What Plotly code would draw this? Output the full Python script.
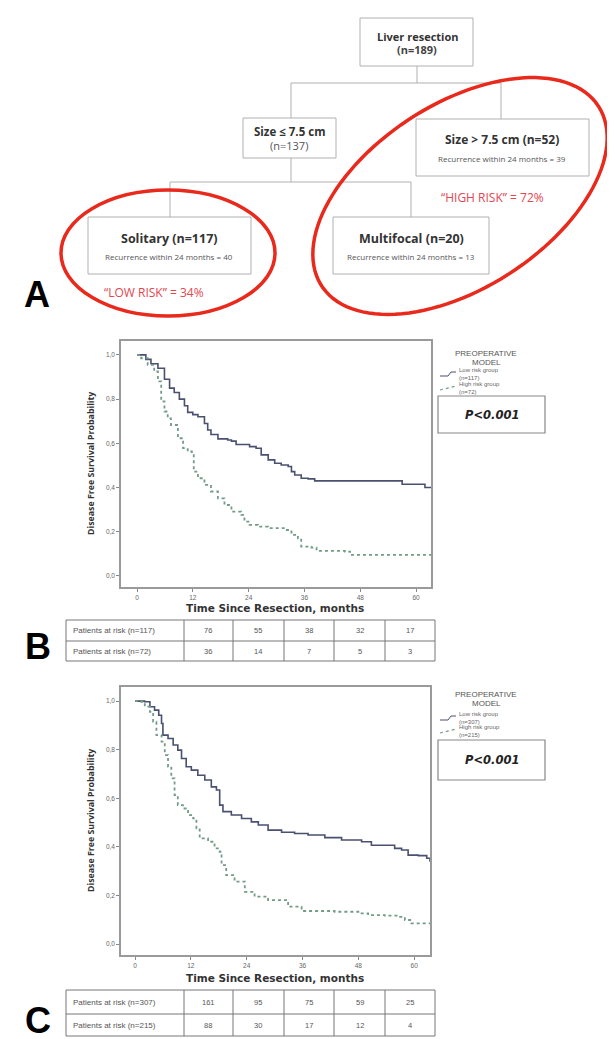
import numpy as np
import plotly.graph_objects as go

W, H = 615, 1039

# ---------------- data ----------------
# Panel B (derivation cohort) Kaplan-Meier estimates
B_low_t = [0, 1.9, 3, 4.5, 5.9, 7.0, 8.0, 9.1, 10.2, 10.9, 12.0, 13.1, 14.5, 15.2, 15.9, 17.4, 19.5, 20.3, 21.3, 24.2,
           25.6, 26.7, 28.2, 29.6, 31.0, 32.5, 33.2, 33.9, 35.3, 36.8, 38.2, 57.0, 61.9, 63.2]
B_low_s = [1.0, 0.98, 0.96, 0.94, 0.89, 0.85, 0.83, 0.80, 0.77, 0.74, 0.73, 0.72, 0.69, 0.66, 0.64, 0.62, 0.615, 0.61,
           0.595, 0.585, 0.578, 0.548, 0.525, 0.51, 0.502, 0.495, 0.472, 0.457, 0.442, 0.439, 0.43, 0.415, 0.40, 0.40]
B_high_t = [0, 0.9, 2.3, 3.7, 4.5, 5.2, 5.9, 6.6, 7.3, 8.8, 9.9, 10.9, 11.8, 12.2, 13.1, 14.5, 15.9, 17.4, 18.8, 20.3,
            22.4, 23.1, 24.2, 26.0, 28.2, 31.8, 33.2, 34.6, 35.3, 37.5, 38.6, 44.7, 45.8, 63.2]
B_high_s = [1.0, 0.985, 0.955, 0.925, 0.88, 0.79, 0.744, 0.713, 0.683, 0.623, 0.578, 0.563, 0.547, 0.472, 0.442, 0.412,
            0.382, 0.351, 0.321, 0.291, 0.276, 0.246, 0.231, 0.223, 0.216, 0.208, 0.186, 0.17, 0.133, 0.128, 0.113,
            0.11, 0.095, 0.095]

# Panel C (validation cohort)
C_low_t = [0, 2.1, 3.2, 4.2, 5.1, 5.7, 6.0, 7.1, 8.2, 9.2, 10.0, 11.0, 12.1, 13.5, 15.0, 16.4, 17.5, 18.2, 18.9, 20.7,
           22.9, 25.0, 26.5, 28.6, 31.5, 34.3, 37.2, 40.8, 44.4, 48.7, 50.8, 55.8, 57.3, 58.7, 60.9, 62.7, 63.4]
C_low_s = [1.0, 0.997, 0.977, 0.963, 0.942, 0.908, 0.86, 0.846, 0.819, 0.798, 0.764, 0.73, 0.716, 0.695, 0.675, 0.647,
           0.634, 0.572, 0.545, 0.531, 0.517, 0.503, 0.49, 0.469, 0.46, 0.455, 0.449, 0.438, 0.428, 0.421, 0.407,
           0.394, 0.387, 0.366, 0.364, 0.353, 0.339]
C_high_t = [0, 1.0, 2.1, 3.2, 3.9, 4.6, 5.7, 6.4, 7.1, 7.8, 8.5, 9.2, 10.3, 11.4, 12.5, 13.2, 13.9, 15.7, 17.1, 18.2,
            18.6, 19.6, 21.4, 23.6, 25.7, 28.6, 32.9, 35.8, 42.9, 48.0, 50.1, 53.7, 56.6, 58.0, 59.4, 63.4]
C_high_s = [1.0, 0.997, 0.977, 0.956, 0.915, 0.86, 0.833, 0.778, 0.73, 0.682, 0.613, 0.572, 0.558, 0.531, 0.517, 0.476,
            0.435, 0.421, 0.394, 0.38, 0.325, 0.284, 0.257, 0.215, 0.195, 0.181, 0.154, 0.136, 0.133, 0.126, 0.119,
            0.117, 0.112, 0.099, 0.085, 0.085]

x_ticks = [0, 12, 24, 36, 48, 60]
y_ticks = [0.0, 0.2, 0.4, 0.6, 0.8, 1.0]
y_ticklabels = ["0,0", "0,2", "0,4", "0,6", "0,8", "1,0"]

B_risk_labels = ["Patients at risk (n=117)", "Patients at risk (n=72)"]
B_risk_low = [76, 55, 38, 32, 17]
B_risk_high = [36, 14, 7, 5, 3]
C_risk_labels = ["Patients at risk (n=307)", "Patients at risk (n=215)"]
C_risk_low = [161, 95, 75, 59, 25]
C_risk_high = [88, 30, 17, 12, 4]

B_legend = ["Low risk group<br>(n=117)", "High risk group<br>(n=72)"]
C_legend = ["Low risk group<br>(n=307)", "High risk group<br>(n=215)"]

# ---------------- helpers ----------------
def px(x):
    return x / W

def py(y):
    return 1 - y / H

LOW_COL = "#4a5070"
HIGH_COL = "#739c88"
RED = "#e8291c"
RED_TXT = "#e2464f"
GRAY_LINE = "#b0b0b0"

shapes = []
annotations = []

def text(x, y, s, size=8, color="#333", family="Open Sans", xanchor="center", bold=False):
    if bold:
        s = "<b>" + s + "</b>"
    annotations.append(dict(x=px(x), y=py(y), xref="paper", yref="paper", text=s, showarrow=False,
                            xanchor=xanchor, yanchor="middle", align="center",
                            font=dict(size=size, color=color, family=family)))

def rect(x0, y0, x1, y1, color=GRAY_LINE, width=1):
    shapes.append(dict(type="rect", xref="paper", yref="paper", x0=px(x0), x1=px(x1), y0=py(y0), y1=py(y1),
                       line=dict(color=color, width=width), fillcolor="rgba(0,0,0,0)"))

def line(x0, y0, x1, y1, color=GRAY_LINE, width=1, dash="solid"):
    shapes.append(dict(type="line", xref="paper", yref="paper", x0=px(x0), x1=px(x1), y0=py(y0), y1=py(y1),
                       line=dict(color=color, width=width, dash=dash)))

# ---------------- Panel A: decision tree ----------------
rect(352, 10, 465, 58)
text(409, 28, "Liver resection", 11, "#333", bold=True)
text(409, 42, "(n=189)", 11, "#444", bold=True)

line(409, 58, 409, 75)
line(283, 75, 493, 75)
line(283, 75, 283, 110)
line(493, 75, 493, 111)

rect(235, 110, 328, 150)
text(281, 123, "Size ≤ 7.5 cm", 11.5, "#333", bold=True)
text(281, 138, "(n=137)", 11, "#555")

rect(408, 111, 581, 168)
text(494, 132, "Size > 7.5 cm (n=52)", 12, "#333", bold=True)
text(494, 150, "Recurrence within 24 months = 39", 8, "#555")

line(283, 150, 283, 174)
line(162, 174, 403, 174)
line(162, 174, 162, 209)
line(403, 174, 403, 209)

rect(80, 209, 243, 266)
text(161, 231, "Solitary (n=117)", 12.5, "#333", bold=True)
text(161, 248, "Recurrence within 24 months = 40", 8, "#555")

rect(325, 209, 481, 266)
text(403, 231, "Multifocal (n=20)", 12.5, "#333", bold=True)
text(403, 248, "Recurrence within 24 months = 13", 8, "#555")

text(146, 284, "\u201cLOW RISK\u201d = 34%", 12, RED_TXT)
text(484, 189, "\u201cHIGH RISK\u201d = 72%", 12, RED_TXT)

# red ellipses
shapes.append(dict(type="circle", xref="paper", yref="paper", x0=px(53), x1=px(267), y0=py(182), y1=py(308),
                   line=dict(color=RED, width=3.5)))
cx, cy, a, b, th = 452, 188, 165, 92, np.deg2rad(33)
tt = np.linspace(0, 2 * np.pi, 120)
ex = cx + a * np.cos(tt) * np.cos(th) + b * np.sin(tt) * np.sin(th)
ey = cy - a * np.cos(tt) * np.sin(th) + b * np.sin(tt) * np.cos(th)
path = "M " + " L ".join(f"{px(xx):.5f},{py(yy):.5f}" for xx, yy in zip(ex, ey)) + " Z"
shapes.append(dict(type="path", xref="paper", yref="paper", path=path, line=dict(color=RED, width=3.5)))

# panel letters
text(29, 286, "A", 36, "#000", family="Liberation Sans", bold=True)
text(30, 638, "B", 36, "#000", family="Liberation Sans", bold=True)
text(30, 1012, "C", 36, "#000", family="Liberation Sans", bold=True)

# ---------------- KM panels ----------------
fig = go.Figure()

panels = [
    dict(xa="x", ya="y", xdom=(113, 423), ydom=(333, 579), xr=(-3.44, 63.2), yr=(-0.05, 1.063),
         low=(B_low_t, B_low_s), high=(B_high_t, B_high_s), names=B_legend,
         leg_y=(345, 354, 366, 380), box=(430, 388, 537, 425),
         title_y=600, table=(612, 633, 653), risk=(B_risk_labels, B_risk_low, B_risk_high)),
    dict(xa="x2", ya="y2", xdom=(113, 422), ydom=(679, 947), xr=(-3.01, 63.4), yr=(-0.045, 1.058),
         low=(C_low_t, C_low_s), high=(C_high_t, C_high_s), names=C_legend,
         leg_y=(686, 695, 710, 723), box=(430, 732, 537, 772),
         title_y=970, table=(982, 1006, 1028), risk=(C_risk_labels, C_risk_low, C_risk_high)),
]

axis_common = dict(showgrid=False, zeroline=False, showline=True, mirror=True, linecolor="#9a9a9a", linewidth=1.5,
                   ticks="outside", ticklen=3, tickcolor="#888", tickwidth=1,
                   tickfont=dict(size=6.5, color="#666", family="Liberation Sans"))

layout_axes = {}
for i, p in enumerate(panels):
    fig.add_trace(go.Scatter(x=p["low"][0], y=p["low"][1], mode="lines", line=dict(shape="hv", color=LOW_COL, width=1.6),
                             name=p["names"][0], showlegend=False, xaxis=p["xa"], yaxis=p["ya"]))
    fig.add_trace(go.Scatter(x=p["high"][0], y=p["high"][1], mode="lines",
                             line=dict(shape="hv", color=HIGH_COL, width=1.8, dash="dot"),
                             name=p["names"][1], showlegend=False, xaxis=p["xa"], yaxis=p["ya"]))
    xk = "xaxis" if i == 0 else "xaxis2"
    yk = "yaxis" if i == 0 else "yaxis2"
    layout_axes[xk] = dict(axis_common, domain=[px(p["xdom"][0]), px(p["xdom"][1])], range=list(p["xr"]),
                           tickvals=x_ticks, anchor=p["ya"])
    layout_axes[yk] = dict(axis_common, domain=[py(p["ydom"][1]), py(p["ydom"][0])], range=list(p["yr"]),
                           tickvals=y_ticks, ticktext=y_ticklabels, anchor=p["xa"])

    # axis titles
    ymid = (p["ydom"][0] + p["ydom"][1]) / 2
    annotations.append(dict(x=px(83), y=py(ymid), xref="paper", yref="paper",
                            text="<b>Disease Free Survival Probability</b>", showarrow=False, textangle=-90,
                            xanchor="center", yanchor="middle",
                            font=dict(size=8.8, color="#333", family="Open Sans")))
    text(267, p["title_y"], "Time Since Resection, months", 10.5, "#333", family="DejaVu Sans", bold=True)

    # legend
    t1, t2, e1, e2 = p["leg_y"]
    text(478, t1, "PREOPERATIVE", 8, "#555", family="Liberation Sans")
    text(478, t2, "MODEL", 8, "#555", family="Liberation Sans")
    line(432, e1 + 2, 440, e1 + 2, LOW_COL, 1)
    line(440, e1 + 2, 443, e1 - 2, LOW_COL, 1)
    line(443, e1 - 2, 448, e1 - 2, LOW_COL, 1)
    line(432, e2 + 2, 448, e2 - 2, HIGH_COL, 1.2, "dot")
    annotations.append(dict(x=px(449), y=py(e1), xref="paper", yref="paper", text=p["names"][0], showarrow=False,
                            xanchor="left", yanchor="middle", align="left",
                            font=dict(size=6, color="#666", family="Liberation Sans")))
    annotations.append(dict(x=px(449), y=py(e2), xref="paper", yref="paper", text=p["names"][1], showarrow=False,
                            xanchor="left", yanchor="middle", align="left",
                            font=dict(size=6, color="#666", family="Liberation Sans")))
    bx0, by0, bx1, by1 = p["box"]
    rect(bx0, by0, bx1, by1, "#888", 1.2)
    text((bx0 + bx1) / 2, (by0 + by1) / 2, "<i>P&lt;0.001</i>", 11.5, "#222", family="DejaVu Sans", bold=True)

    # risk table
    r0, r1, r2 = p["table"]
    cols = [58, 176, 225, 276, 326, 377, 427]
    rect(cols[0], r0, cols[-1], r2, "#777", 1)
    line(cols[0], r1, cols[-1], r1, "#777", 1)
    for c in cols[1:-1]:
        line(c, r0, c, r2, "#777", 1)
    labels, lowv, highv = p["risk"]
    for rr, (lab, vals) in enumerate(zip(labels, [lowv, highv])):
        yy = (r0 + r1) / 2 if rr == 0 else (r1 + r2) / 2
        text(63, yy, lab, 8, "#555", family="Liberation Sans", xanchor="left")
        for j, v in enumerate(vals):
            text((cols[j + 1] + cols[j + 2]) / 2, yy, str(v), 7.5, "#555", family="Liberation Sans")

fig.update_layout(width=W, height=H, margin=dict(l=0, r=0, t=0, b=0), paper_bgcolor="white",
                  plot_bgcolor="white", showlegend=False, shapes=shapes, annotations=annotations, **layout_axes)

fig.write_html("out.html")
